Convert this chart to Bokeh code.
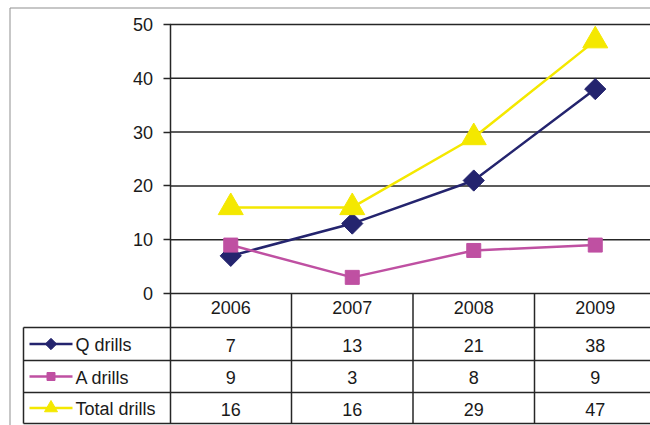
import math
from bokeh.plotting import figure
from bokeh.models import Range1d, LinearAxis, FixedTicker, ColumnDataSource
from bokeh.core.properties import value
from bokeh.embed import file_html
from bokeh.resources import INLINE

# ---------------- data ----------------
years = ["2006", "2007", "2008", "2009"]
q_drills = [7, 13, 21, 38]
a_drills = [9, 3, 8, 9]
total_drills = [16, 16, 29, 47]
series_names = ["Q drills", "A drills", "Total drills"]
y_ticks = [0, 10, 20, 30, 40, 50]

# ---------------- layout helpers (pixels -> data) ----------------
W, H = 650, 425
X0_PX = 169.5      # value axis position
COL_PX = 121.5     # width of one category column
Y0_PX = 293.0      # y = 0
UNIT_PX = 5.38     # pixels per value unit


def dx(px):
    return (px - X0_PX) / COL_PX


def dy(px):
    return (Y0_PX - px) / UNIT_PX


FONT = "Liberation Sans"
TXT = "#1a1a1a"
LINE = "#262626"
colors = ["#24246e", "#bf50a2", "#f4e800"]
markers = ["square", "square", "triangle"]
angles = [math.pi / 4, 0, 0]
sizes = [15, 14, 25]
leg_sizes = [8, 8, 13]
series = [q_drills, a_drills, total_drills]

p = figure(width=W, height=H, x_range=Range1d(dx(0), dx(W)), y_range=Range1d(dy(H), dy(0)),
           x_axis_location=None, y_axis_location=None, toolbar_location=None,
           output_backend="svg", min_border=0, outline_line_color=None,
           background_fill_color="white", border_fill_color="white")
p.grid.visible = False

x_pos = [i + 0.5 for i in range(len(years))]
x_end = dx(W + 2)

# outer chart-area border (left and top edges visible)
p.segment(x0=[dx(9.5), dx(9.5)], y0=[dy(7.5), dy(7.5)], x1=[x_end, dx(9.5)], y1=[dy(7.5), dy(H + 2)],
          line_color="#8f8f8f", line_width=1)

# horizontal grid lines (value ticks)
p.segment(x0=[0] * len(y_ticks), x1=[x_end] * len(y_ticks), y0=y_ticks, y1=y_ticks,
          line_color=LINE, line_width=1.5)

# data table lines
row_px = [327, 360, 392, 423]
leg_left = dx(23)
p.segment(x0=[leg_left] * len(row_px), x1=[x_end] * len(row_px),
          y0=[dy(r) for r in row_px], y1=[dy(r) for r in row_px], line_color=LINE, line_width=1.5)
vx = [1, 2, 3]
p.segment(x0=vx, x1=vx, y0=[0] * 3, y1=[dy(423)] * 3, line_color=LINE, line_width=1.5)
p.segment(x0=[leg_left], x1=[leg_left], y0=[dy(327)], y1=[dy(423)], line_color=LINE, line_width=1.5)

# series lines and markers
for vals, c, m, a, s in zip(series, colors, markers, angles, sizes):
    p.line(x_pos, vals, line_color=c, line_width=2.5)
    p.scatter(x_pos, vals, marker=m, angle=a, size=s, fill_color=c, line_color=c)

# table rows
row_centers = [(row_px[i] + row_px[i + 1]) / 2 + 1 for i in range(3)]
tx, ty, tt = [], [], []
for vals, rc in zip(series, row_centers):
    for xp, v in zip(x_pos, vals):
        tx.append(xp)
        ty.append(dy(rc))
        tt.append(str(v))
p.text(x=tx, y=ty, text=tt, text_align="center", text_baseline="middle",
       text_font=value(FONT), text_font_size="18px", text_color=TXT)

# legend keys inside the table
for name, c, m, a, s, rc in zip(series_names, colors, markers, angles, leg_sizes, row_centers):
    yy = dy(rc - 1)
    p.line([dx(29), dx(72)], [yy, yy], line_color=c, line_width=2.5)
    p.scatter([dx(50.5)], [yy], marker=m, angle=a, size=s, fill_color=c, line_color=c)
    p.text(x=[dx(75)], y=[dy(rc)], text=[name], text_align="left", text_baseline="middle",
           text_font=value(FONT), text_font_size="18px", text_color=TXT)

# value axis
yaxis = LinearAxis(fixed_location=0, ticker=FixedTicker(ticks=y_ticks), bounds=(dy(423), 50),
                   axis_line_color=LINE, axis_line_width=1.5,
                   major_tick_out=7, major_tick_in=0, major_tick_line_color=LINE, major_tick_line_width=1.5,
                   minor_tick_line_color=None, major_label_standoff=10,
                   major_label_text_font=FONT, major_label_text_font_size="18px",
                   major_label_text_color=TXT)
p.add_layout(yaxis, "left")

# category axis (labels in table header row)
xaxis = LinearAxis(fixed_location=0, ticker=FixedTicker(ticks=x_pos),
                   major_label_overrides={xp: yr for xp, yr in zip(x_pos, years)},
                   axis_line_color=None, major_tick_line_color=None, minor_tick_line_color=None,
                   major_tick_out=0, major_tick_in=0, major_label_standoff=7,
                   major_label_text_font=FONT, major_label_text_font_size="18px",
                   major_label_text_color=TXT)
p.add_layout(xaxis, "below")

open("out.html", "w").write(file_html(p, INLINE))
